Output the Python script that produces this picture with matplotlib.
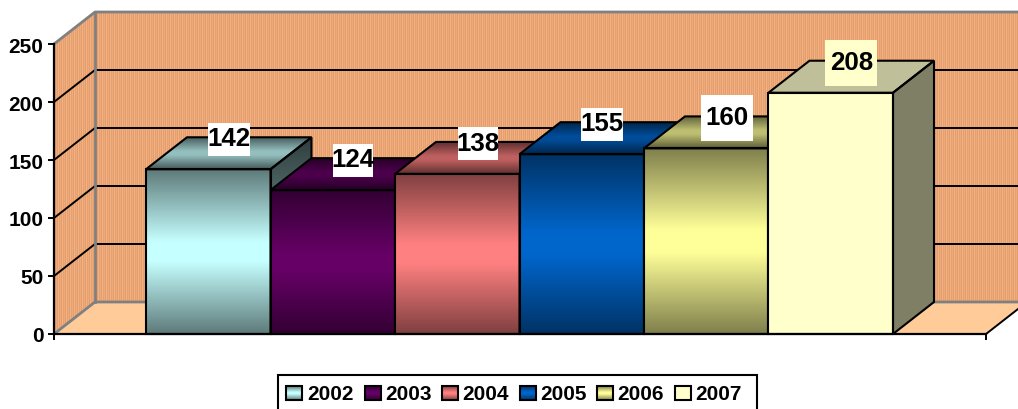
import numpy as np
import matplotlib
matplotlib.use("Agg")
import matplotlib.pyplot as plt
from matplotlib.colors import to_rgb
from matplotlib.patches import Polygon, Rectangle

plt.rcParams['font.family'] = ['Liberation Sans', 'DejaVu Sans']
plt.rcParams['font.weight'] = 'bold'

years = ['2002', '2003', '2004', '2005', '2006', '2007']
values = [142, 124, 138, 155, 160, 208]
y_ticks = [0, 50, 100, 150, 200, 250]

#colour in the middle of each bar and at its top/bottom edge
mid_colors = ['#C6FFFF', '#660066', '#FF8080', '#0066CC', '#FFFF99', '#FFFFCC']
end_colors = ['#5F7B7B', '#330033', '#804040', '#003366', '#80804D', '#FFFFCC']

#label box size in pixels
box_w = [42, 40, 40, 42, 52, 52]
box_h = [33, 33, 33, 33, 46, 46]
box_colors = ['white', 'white', 'white', 'white', 'white', '#FFFFCC']

px_x = 124.5 #pixels for one bar
px_y = 1.16 #pixels for one unit of value
depth_x = 41 / px_x
depth_y = 32 / px_y
x0 = (54 - 146) / px_x
x1 = (986 - 146) / px_x

fig = plt.figure(figsize=(10.18, 4.10), dpi=100)
ax = fig.add_axes([54/1018, (410-335)/410, 932/1018, 290/410])
ax.patch.set_visible(False)
ax.set_xlim(x0, x1)
ax.set_ylim(0, 250)


def gradient(end, mid, scale=1.0):
    s = np.abs(np.linspace(-1, 1, 81))
    t = np.clip((s - 0.12) / 0.88, 0, 1)[:, None, None]
    e = np.array(to_rgb(end))[None, None, :]
    m = np.array(to_rgb(mid))[None, None, :]
    return (m * (1 - t) + e * t) * scale


def face(target, pts, img, zorder):
    pts = np.array(pts)
    patch = Polygon(pts, closed=True, fc='none', ec='black', lw=1.5,
                    zorder=zorder + 0.1, clip_on=False, joinstyle='miter')
    target.add_patch(patch)
    ext = (pts[:, 0].min(), pts[:, 0].max(), pts[:, 1].min(), pts[:, 1].max())
    im = target.imshow(img, extent=ext, aspect='auto', origin='lower',
                       interpolation='bilinear', zorder=zorder)
    im.set_clip_path(patch)
    im.set_clip_box(fig.bbox)


#walls with the fine vertical stripes
wall_pts = [(x0, 0), (x0, 250), (x0 + depth_x, 250 + depth_y),
            (x1 + depth_x, 250 + depth_y), (x1 + depth_x, depth_y), (x0 + depth_x, depth_y)]
wall = Polygon(wall_pts, closed=True, fc='none', ec='none', clip_on=False, zorder=0.2)
ax.add_patch(wall)
n_cols = int((x1 + depth_x - x0) * px_x)
stripes = np.array([to_rgb(c) for c in ['#F2B283', '#E6A06E', '#EDAA7A', '#E39C6A']])
texture = stripes[np.arange(n_cols) % 4][None, :, :]
im = ax.imshow(texture, extent=(x0, x1 + depth_x, 0, 250 + depth_y), aspect='auto',
               interpolation='nearest', zorder=0.1)
im.set_clip_path(wall)
im.set_clip_box(fig.bbox)

#floor
ax.add_patch(Polygon([(x0, 0), (x0 + depth_x, depth_y), (x1 + depth_x, depth_y), (x1, 0)],
                     closed=True, fc='#FFCC99', ec='none', clip_on=False, zorder=0.3))

#grid lines on the walls
for v in y_ticks[1:-1]:
    ax.plot([x0, x0 + depth_x, x1 + depth_x], [v, v + depth_y, v + depth_y],
            color='black', lw=1.4, clip_on=False, zorder=0.5)

#grey wall outline
gray = '#808080'
ax.plot([x0, x0 + depth_x, x1 + depth_x], [250, 250 + depth_y, 250 + depth_y],
        color=gray, lw=2, clip_on=False, zorder=0.6)
ax.plot([x0, x0 + depth_x, x1 + depth_x], [0, depth_y, depth_y],
        color=gray, lw=2, clip_on=False, zorder=0.6)
ax.plot([x0 + depth_x, x0 + depth_x], [depth_y, 250 + depth_y],
        color=gray, lw=2, clip_on=False, zorder=0.6)
ax.plot([x1, x1 + depth_x], [0, depth_y], color='black', lw=1.4, clip_on=False, zorder=0.6)

#bars, left to right so each one paints over the side of the one before
for i, v in enumerate(values):
    z = 3 + i
    end, mid = end_colors[i], mid_colors[i]
    face(ax, [(i, 0), (i + 1, 0), (i + 1, v), (i, v)], gradient(end, mid), z)
    face(ax, [(i, v), (i + 1, v), (i + 1 + depth_x, v + depth_y), (i + depth_x, v + depth_y)],
         gradient(end, mid, 0.75), z)
    face(ax, [(i + 1, 0), (i + 1 + depth_x, depth_y), (i + 1 + depth_x, v + depth_y), (i + 1, v)],
         gradient(end, mid, 0.5), z)

#value labels
for i, v in enumerate(values):
    cx = i + 0.5 + depth_x / 2
    cy = v + depth_y
    w = box_w[i] / px_x
    h = box_h[i] / px_y
    box_cy = cy - 2 / px_y
    ax.add_patch(Rectangle((cx - w / 2, box_cy - h / 2), w, h, fc=box_colors[i], ec='none',
                           clip_on=False, zorder=40))
    ax.text(cx, cy - 1 / px_y, str(v), ha='center', va='center', fontsize=18.6, fontweight='bold',
            color='black', clip_on=False, zorder=41)

#axes
ax.set_yticks(y_ticks)
ax.set_xticks([x0, x1])
ax.set_xticklabels([])
ax.tick_params(axis='both', length=4.3, width=1.4, color='black')
ax.tick_params(axis='y', labelsize=15, pad=3.4)
for name in ['top', 'right']:
    ax.spines[name].set_visible(False)
for name in ['left', 'bottom']:
    ax.spines[name].set_linewidth(1.6)
    ax.spines[name].set_zorder(50)
ax.set_xlim(x0, x1)
ax.set_ylim(0, 250)

#legend, in pixel coordinates
lax = fig.add_axes([0, 0, 1, 1])
lax.set_axis_off()
lax.set_xlim(0, 1018)
lax.set_ylim(410, 0)
lax.add_patch(Rectangle((278, 376), 479, 40, fc='white', ec='black', lw=1.5))
swatch_x = [286, 365, 442, 520, 597, 675]
text_x = [307, 385, 462, 540, 617, 695]
for i, year in enumerate(years):
    face(lax, [(swatch_x[i], 387), (swatch_x[i] + 16, 387), (swatch_x[i] + 16, 401), (swatch_x[i], 401)],
         gradient(end_colors[i], mid_colors[i]), 3)
    lax.text(text_x[i], 395, year, ha='left', va='center', fontsize=15, fontweight='bold', color='black')
lax.set_xlim(0, 1018)
lax.set_ylim(410, 0)

fig.savefig('out.png', dpi=100)
